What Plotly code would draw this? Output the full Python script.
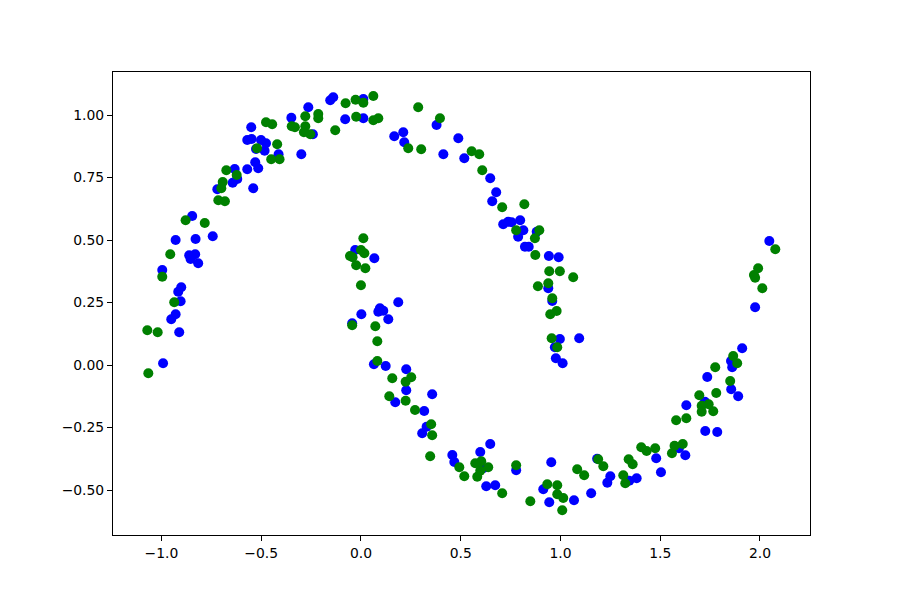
import plotly.graph_objects as go

# Blue series (x, y)
blue_x = [-0.139, -0.154, 0.012, -0.264, -0.349, -0.079, 0.012, -0.550, -0.241, -0.570,
          -0.548, -0.501, -0.476, -0.483, -0.526, -0.299, -0.413, -0.530, -0.515, -0.570,
          -0.633, -0.620, -0.643, -0.720, -0.540, -0.846, -0.929, -0.829, -0.743, -0.861,
          -0.831, -0.854, -0.816, -0.996, -0.901, -0.916, -0.904, -0.929, -0.951, -0.911,
          -0.992, -0.029, 0.002, -0.044, 0.379, 0.167, 0.212, 0.217, 0.413, 0.488,
          0.518, 0.648, 0.678, 0.658, 0.713, 0.738, 0.755, 0.798, 0.814, 0.788,
          0.881, 0.822, 0.841, 0.067, 0.187, 0.095, 0.112, 0.087, 0.137, 0.065,
          0.124, 0.227, 0.227, 0.357, 0.172, 0.317, 0.942, 0.991, 0.939, 0.959,
          0.997, 0.972, 1.094, 0.977, 1.011, 0.329, 0.307, 0.458, 0.468, 0.598,
          0.648, 0.613, 0.628, 0.673, 0.778, 0.954, 0.914, 0.944, 1.068, 1.154,
          1.184, 1.250, 1.235, 1.345, 1.382, 2.047, 1.976, 1.911, 1.855, 1.861,
          1.736, 1.856, 1.891, 1.724, 1.631, 1.726, 1.786, 1.594, 1.626, 1.480,
          1.504]
blue_y = [1.071, 1.059, 1.064, 1.031, 0.989, 0.983, 0.987, 0.951, 0.923, 0.900,
          0.904, 0.900, 0.887, 0.857, 0.864, 0.843, 0.843, 0.811, 0.787, 0.783,
          0.784, 0.744, 0.729, 0.703, 0.707, 0.596, 0.500, 0.504, 0.515, 0.439,
          0.443, 0.424, 0.407, 0.380, 0.311, 0.293, 0.255, 0.203, 0.183, 0.131,
          0.007, 0.460, 0.203, 0.167, 0.960, 0.915, 0.931, 0.891, 0.843, 0.907,
          0.827, 0.747, 0.691, 0.655, 0.563, 0.573, 0.571, 0.579, 0.539, 0.513,
          0.533, 0.473, 0.473, 0.427, 0.251, 0.227, 0.217, 0.213, 0.183, 0.003,
          -0.004, -0.017, -0.101, -0.117, -0.149, -0.184, 0.436, 0.431, 0.307, 0.256,
          0.104, 0.071, 0.107, 0.027, 0.007, -0.247, -0.273, -0.360, -0.388, -0.348,
          -0.316, -0.413, -0.485, -0.481, -0.421, -0.389, -0.497, -0.549, -0.541, -0.513,
          -0.375, -0.445, -0.471, -0.463, -0.453, 0.496, 0.231, 0.067, 0.016, -0.009,
          -0.048, -0.097, -0.125, -0.147, -0.161, -0.264, -0.268, -0.333, -0.361, -0.373,
          -0.429]

# Green series (x, y)
green_x = [-0.077, -0.027, 0.012, -0.214, -0.214, -0.279, -0.024, -0.476, -0.445, -0.347,
           -0.331, -0.279, -0.286, -0.254, -0.129, -0.521, -0.420, -0.450, -0.408, -0.675,
           -0.623, -0.693, -0.700, -0.715, -0.682, -0.879, -0.783, 0.012, -0.956, -0.996,
           -0.936, -1.071, -1.019, -1.066, 0.000, 0.017, -0.055, -0.042, -0.024, 0.022,
           0.000, -0.044, 0.062, 0.062, 0.087, 0.287, 0.396, 0.237, 0.302, 0.555,
           0.593, 0.608, 0.708, 0.819, 0.778, 0.894, 0.872, 0.072, 0.082, 0.082,
           0.157, 0.252, 0.224, 0.142, 0.224, 0.271, 0.874, 0.944, 0.997, 1.064,
           0.887, 0.939, 0.959, 0.981, 0.949, 0.956, 0.984, 0.352, 0.357, 0.347,
           0.493, 0.518, 0.573, 0.603, 0.638, 0.598, 0.583, 0.708, 0.778, 0.849,
           0.934, 0.984, 0.984, 1.014, 1.009, 1.084, 1.119, 1.189, 1.215, 1.315,
           1.325, 1.342, 1.362, 2.077, 1.991, 1.970, 1.976, 2.012, 1.866, 1.886,
           1.776, 1.851, 1.696, 1.781, 1.708, 1.743, 1.708, 1.766, 1.631, 1.580,
           1.613, 1.572, 1.559, 1.405, 1.432, 1.475]
green_y = [1.047, 1.061, 1.049, 1.004, 0.987, 0.995, 0.993, 0.971, 0.963, 0.955,
           0.951, 0.955, 0.931, 0.923, 0.939, 0.867, 0.883, 0.823, 0.823, 0.779,
           0.760, 0.732, 0.707, 0.659, 0.655, 0.579, 0.568, 0.507, 0.443, 0.353,
           0.251, 0.139, 0.131, -0.033, 0.460, 0.447, 0.436, 0.431, 0.399, 0.387,
           0.319, 0.159, 1.076, 0.979, 0.987, 1.031, 0.987, 0.867, 0.863, 0.855,
           0.843, 0.779, 0.631, 0.643, 0.539, 0.539, 0.507, 0.155, 0.095, 0.016,
           -0.053, -0.049, -0.067, -0.125, -0.143, -0.180, 0.440, 0.375, 0.375, 0.351,
           0.315, 0.327, 0.267, 0.216, 0.203, 0.107, 0.071, -0.237, -0.281, -0.365,
           -0.409, -0.445, -0.393, -0.385, -0.409, -0.423, -0.447, -0.513, -0.401, -0.545,
           -0.477, -0.481, -0.517, -0.532, -0.581, -0.417, -0.441, -0.377, -0.405, -0.441,
           -0.473, -0.377, -0.397, 0.463, 0.387, 0.360, 0.349, 0.307, 0.036, 0.007,
           -0.009, -0.064, -0.121, -0.112, -0.163, -0.157, -0.187, -0.185, -0.213, -0.221,
           -0.316, -0.323, -0.353, -0.329, -0.344, -0.333]

x_ticks = [-1.0, -0.5, 0.0, 0.5, 1.0, 1.5, 2.0]
y_ticks = [-0.50, -0.25, 0.00, 0.25, 0.50, 0.75, 1.00]


def fmt(v, nd):
    s = f"{v:.{nd}f}"
    return s.replace("-", "\u2212")


fig = go.Figure()
fig.add_trace(go.Scatter(x=blue_x, y=blue_y, mode="markers",
                         marker=dict(color="blue", size=10, line=dict(width=0)),
                         showlegend=False, hoverinfo="skip"))
fig.add_trace(go.Scatter(x=green_x, y=green_y, mode="markers",
                         marker=dict(color="green", size=10, line=dict(width=0)),
                         showlegend=False, hoverinfo="skip"))

axis_common = dict(showgrid=False, zeroline=False, showline=True, mirror=True,
                   linecolor="black", linewidth=1, ticks="outside", ticklen=5,
                   tickwidth=1, tickcolor="black",
                   tickfont=dict(family="DejaVu Sans", size=13.9, color="black"))

# page body adds an 8px offset, so the figure is 892x592 with shifted margins
fig.update_layout(
    width=892, height=592,
    paper_bgcolor="white", plot_bgcolor="white",
    margin=dict(l=105, r=90, t=64, b=65),
    xaxis=dict(range=[-1.243, 2.251], tickvals=x_ticks,
               ticktext=[fmt(v, 1) for v in x_ticks], **axis_common),
    yaxis=dict(range=[-0.68, 1.172], tickvals=y_ticks,
               ticktext=[fmt(v, 2) for v in y_ticks], **axis_common),
)

fig.write_html("out.html")
